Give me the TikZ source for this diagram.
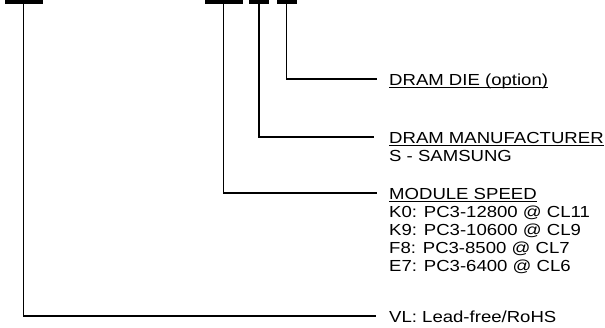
\documentclass[tikz,border=0pt]{standalone}
\usepackage{fontspec}
\setmainfont{Liberation Sans}[FakeStretch=1.16]
\usetikzlibrary{calc}
\newsavebox\ulbox
\newcommand\ulabel[1]{\sbox\ulbox{#1}\rlap{\rule[-2.5pt]{\wd\ulbox}{1.1pt}}\usebox\ulbox}
\newcommand\lines[1]{\begin{tabular}[t]{@{}l@{}}#1\end{tabular}}

\begin{document}
\begin{tikzpicture}[x=1pt,y=1pt,
   bar/.style={fill=black,inner sep=0,minimum height=4pt},
   lbl/.style={anchor=base west,inner sep=0,
font=\fontsize{16}{18}\selectfont},
   lead/.style={line width=1.2pt}]

   \useasboundingbox (0,0) rectangle (605,-327);
   \node[bar,minimum width=38pt] (rohsBar) at (23.5,-2) {};
   \node[bar,minimum width=38pt] (speedBar) at (223.5,-2) {};
   \node[bar,minimum width=20pt] (mfrBar) at (259,-2) {};
   \node[bar,minimum width=20pt] (dieBar) at (286.5,-2) {};

   \node[lbl] (die) at (389,-85.5) {\ulabel{DRAM DIE (option)}};
   \node[lbl] (mfr) at (389,-143.5) {\lines{\ulabel{DRAM MANUFACTURER}\\S - SAMSUNG}};
   \node[lbl] (speed) at (389,-199.5) {\lines{\ulabel{MODULE SPEED}\\
K0: PC3-12800 @ CL11\\K9: PC3-10600 @ CL9\\
F8: PC3-8500 @ CL7\\E7: PC3-6400 @ CL6}};
   \node[lbl] (rohs) at (389,-322.5) {VL: Lead-free/RoHS};

   \draw[lead] (dieBar.south) |- ($(die.base west)+(-12,6.5)$);
   \draw[lead] (mfrBar.south) |- ($(mfr.base west)+(-15,6.5)$);
   \draw[lead] (speedBar.south) |- ($(speed.base west)+(-12,6.5)$);
   \draw[lead] (rohsBar.south) |- ($(rohs.base west)+(-13,6.5)$);

\end{tikzpicture}
\end{document}
